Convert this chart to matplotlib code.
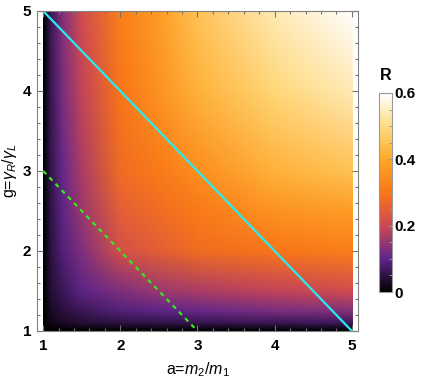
import numpy as np
import matplotlib
matplotlib.use("Agg")
import matplotlib.pyplot as plt
from matplotlib.colors import LinearSegmentedColormap
from matplotlib.image import NonUniformImage
from matplotlib.patches import Rectangle
from matplotlib.ticker import MultipleLocator

plt.rcParams['font.family'] = ['Liberation Sans', 'DejaVu Sans']
plt.rcParams['mathtext.fontset'] = 'custom'
plt.rcParams['mathtext.rm'] = 'Liberation Sans'
plt.rcParams['mathtext.it'] = 'Liberation Sans:italic'

# grid nodes (a = m2/m1, g = gamma_R/gamma_L) and R
a_vals = [1, 1.1, 1.25, 1.5, 2, 2.5, 3, 4, 5]
g_vals = [1, 1.1, 1.25, 1.5, 2, 2.5, 3, 4, 5]
# rows: g, columns: a
R_vals = [
    [0, 0.000, 0.000, 0.000, 0.000, 0.000, 0.000, 0.000, 0.000],
    [0, 0.020, 0.030, 0.040, 0.050, 0.055, 0.060, 0.065, 0.070],
    [0, 0.030, 0.045, 0.065, 0.090, 0.100, 0.110, 0.125, 0.135],
    [0, 0.040, 0.065, 0.100, 0.130, 0.155, 0.170, 0.190, 0.210],
    [0, 0.050, 0.090, 0.130, 0.220, 0.250, 0.280, 0.300, 0.320],
    [0, 0.055, 0.100, 0.155, 0.250, 0.280, 0.310, 0.360, 0.380],
    [0, 0.060, 0.110, 0.170, 0.280, 0.310, 0.350, 0.420, 0.450],
    [0, 0.065, 0.125, 0.190, 0.300, 0.360, 0.420, 0.490, 0.540],
    [0, 0.070, 0.135, 0.210, 0.320, 0.380, 0.450, 0.540, 0.600],
]

# a + g = 6 and a + g = 4
cyan_a = [1, 5]
cyan_g = [5, 1]
green_a = [1, 3]
green_g = [3, 1]

sunset = LinearSegmentedColormap.from_list("sunset", [
    (0.00, (0.0, 0.0, 0.0)),
    (0.17, (0.38, 0.15, 0.55)),
    (0.33, (0.80, 0.28, 0.33)),
    (0.50, (0.98, 0.46, 0.09)),
    (0.67, (1.00, 0.66, 0.16)),
    (0.83, (1.00, 0.86, 0.50)),
    (1.00, (1.00, 1.00, 1.00)),
])

fig = plt.figure(figsize=(4.27, 3.81), dpi=100)
ax = fig.add_axes([37/427, 50/381, 321/427, 320/381])
ax.set_xlim(0.92, 5.08)
ax.set_ylim(1, 5)

im = NonUniformImage(ax, interpolation='bilinear', cmap=sunset,
                     extent=(1, 5, 1, 5))
im.set_data(np.array(a_vals), np.array(g_vals), np.array(R_vals))
im.set_clim(0, 0.6)
ax.add_image(im)
im.set_clip_path(Rectangle((1, 1), 4, 4, transform=ax.transData))

ax.plot(cyan_a, cyan_g, color=(0.15, 0.92, 0.95), lw=1.6)
ax.plot(green_a, green_g, color=(0.2, 0.92, 0.1), lw=1.6, dashes=(2.0, 2.0))

ax.xaxis.set_major_locator(MultipleLocator(1))
ax.yaxis.set_major_locator(MultipleLocator(1))
ax.xaxis.set_minor_locator(MultipleLocator(0.2))
ax.yaxis.set_minor_locator(MultipleLocator(0.2))
ax.tick_params(which='both', direction='in', top=True, right=True,
               color='0.45', width=0.8)
ax.tick_params(which='major', length=4, labelsize=11)
ax.tick_params(which='minor', length=2.2)
ax.tick_params(axis='x', pad=6)
ax.tick_params(axis='y', pad=4)
for lab in ax.get_xticklabels() + ax.get_yticklabels():
    lab.set_fontweight('bold')
for sp in ax.spines.values():
    sp.set_color('0.5')

ax.set_xlabel(r'a=$m_2/m_1$', fontsize=11.5, labelpad=5)
ax.set_ylabel(r'g=$\gamma_R/\gamma_L$', fontsize=11.5, labelpad=3)

cax = fig.add_axes([379/427, 89/381, 13/427, 199/381])
cb = fig.colorbar(im, cax=cax, ticks=[0, 0.2, 0.4, 0.6])
cb.ax.set_yticklabels(['0', '0.2', '0.4', '0.6'], fontweight='bold', fontsize=11)
cb.ax.yaxis.set_minor_locator(MultipleLocator(0.05))
cb.ax.tick_params(which='both', direction='in', color='0.6', width=0.7, pad=2)
cb.ax.tick_params(which='major', length=3)
cb.ax.tick_params(which='minor', length=2)
cb.outline.set_edgecolor('0.6')
cb.ax.set_title('R', fontsize=11.5, fontweight='bold', pad=9)

fig.savefig('out.png', dpi=100)
